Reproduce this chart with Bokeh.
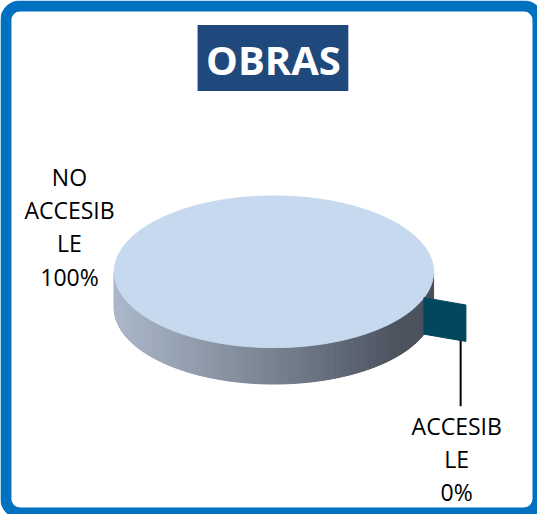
import numpy as np
from bokeh.plotting import figure
from bokeh.models import Range1d, BoxAnnotation
from bokeh.core.properties import value
from bokeh.embed import file_html
from bokeh.resources import INLINE

# ---------------- data ----------------
title = "OBRAS"
categories = ["NO ACCESIBLE", "ACCESIBLE"]
values = [100, 0]
slice_colors = ["#c6d9ef", "#02475e"]
explode = [0.0, 0.28]

# ---------------- layout / style ----------------
W, H = 545, 522          # data units (reference pixels minus page margin)
cx, cy = 277.5, 275.5    # pie centre
ra, rb = 162.0, 77.0     # ellipse semi-axes
depth = 37.0
start_deg = 20.0         # clockwise from 3 o'clock
font = "Open Sans"

p = figure(width=537, height=514, x_range=Range1d(0, W), y_range=Range1d(H, 0),
           output_backend="svg", toolbar_location=None, min_border=0,
           x_axis_location=None, y_axis_location=None)
p.grid.visible = False
p.outline_line_color = None
p.background_fill_color = "white"
p.border_fill_color = "white"

# frame
p.add_layout(BoxAnnotation(left=5.5, right=545.5, top=5.5, bottom=520.5,
                           fill_color=None, fill_alpha=0, line_color="#0070c0",
                           line_alpha=1.0, line_width=11, border_radius=14))

# title box
p.quad(left=200, right=353, top=25, bottom=92, fill_color="#1f497d", line_color=None)
p.text(x=[277], y=[60], text=[title], text_color="white", text_font=value(font),
       text_font_style="bold", text_font_size="40px", text_align="center",
       text_baseline="middle")

# ---------------- pie geometry ----------------
total = float(sum(values))
fracs = [v / total for v in values]
starts = []
acc = np.deg2rad(start_deg)
for f in fracs:
    starts.append(acc)
    acc += f * 2 * np.pi


def lerp_color(u):
    stops = [(0.0, (0xab, 0xb8, 0xca)), (0.5, (0x78, 0x82, 0x90)),
             (0.88, (0x4c, 0x54, 0x60)), (1.0, (0x4a, 0x51, 0x5c))]
    for (u0, c0), (u1, c1) in zip(stops[:-1], stops[1:]):
        if u <= u1:
            t = (u - u0) / (u1 - u0)
            return "#%02x%02x%02x" % tuple(int(round(a + (b - a) * t)) for a, b in zip(c0, c1))
    return "#%02x%02x%02x" % stops[-1][1]


def pt(t, r=1.0, off=(0.0, 0.0)):
    return cx + off[0] + ra * r * np.cos(t), cy + off[1] + rb * r * np.sin(t)


label_info = []
for i, (f, t0) in enumerate(zip(fracs, starts)):
    t1 = t0 + f * 2 * np.pi
    tm = (t0 + t1) / 2
    off = (ra * explode[i] * np.cos(tm), rb * explode[i] * np.sin(tm))
    if f > 0:
        n = max(int(f * 360), 2)
        ts = np.linspace(t0, t1, n + 1)
        xs, ys, cols = [], [], []
        for k in range(n):
            tmid = (ts[k] + ts[k + 1]) / 2
            if np.sin(tmid) <= 0:
                continue
            x0, y0 = pt(ts[k], off=off)
            x1, y1 = pt(ts[k + 1], off=off)
            xs.append([x0, x1, x1, x0])
            ys.append([y0, y1, y1 + depth, y0 + depth])
            u = (0.5 * (x0 + x1) - (cx + off[0] - ra)) / (2 * ra)
            cols.append(lerp_color(min(max(u, 0), 1)))
        p.patches(xs, ys, fill_color=cols, line_color=cols, line_width=1)
        tx, ty = pt(ts, off=off)
        if f < 1:
            tx = np.concatenate([[cx + off[0]], tx])
            ty = np.concatenate([[cy + off[1]], ty])
        p.patch(tx, ty, fill_color=slice_colors[i], line_color=slice_colors[i], line_width=1)
    else:
        # zero-width exploded slice: only its radial face outside the main pie shows
        if np.sin(tm) > 0:
            xa, ya = pt(tm, 1.0)
            xb, yb = pt(tm, 1.0 + explode[i])
            p.patch([xa, xb, xb, xa], [ya, yb, yb + depth, ya + depth],
                     fill_color=slice_colors[i], line_color=slice_colors[i])
            label_info.append((i, xa, ya, xb, yb))


# ---------------- labels ----------------
def wrap(name, width=7):
    out = []
    for w in name.split():
        out += [w[j:j + width] for j in range(0, len(w), width)]
    return out


label_pos = {0: (70, 179), 1: (463, 432)}
line_h = 33.8
for i, name in enumerate(categories):
    lines = wrap(name) + ["%d%%" % round(fracs[i] * 100)]
    lx, ly = label_pos[i]
    p.text(x=[lx] * len(lines), y=[ly + k * line_h for k in range(len(lines))], text=lines,
           text_color="#000000", text_font=value(font), text_font_size="23px",
           text_align="center", text_baseline="middle")

# leader line for the zero slice
for (i, xa, ya, xb, yb) in label_info:
    lx, ly = label_pos[i]
    x_lead = lx + 4
    s = (x_lead - xa) / (xb - xa)
    y_start = ya + s * (yb - ya) + depth
    p.line([x_lead, x_lead], [y_start, ly - 20], line_color="black", line_width=2)

open("out.html", "w").write(file_html(p, INLINE))
